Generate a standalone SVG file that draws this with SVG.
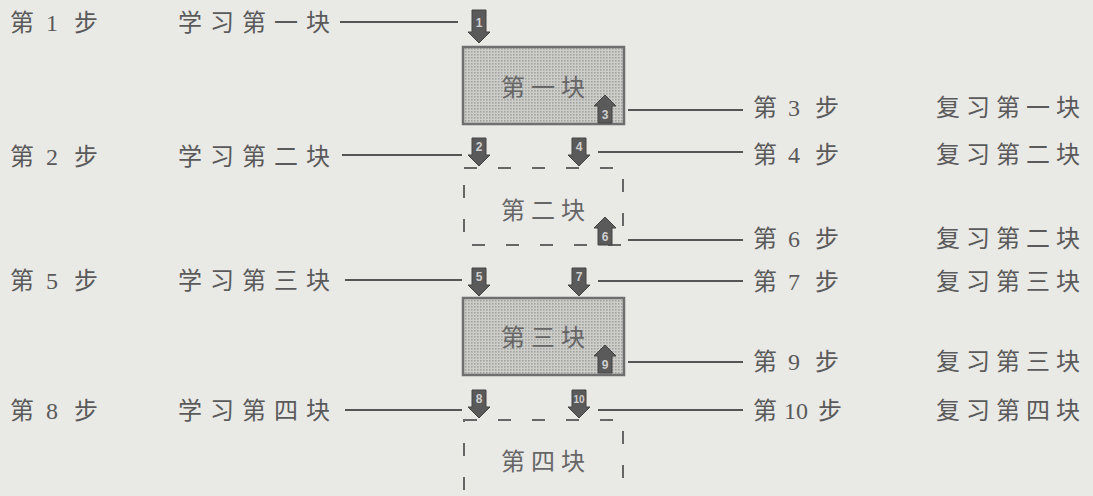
<svg xmlns="http://www.w3.org/2000/svg" width="1093" height="496" viewBox="0 0 1093 496">
<style>
.t{font-family:"Liberation Serif","Noto Sans CJK SC",serif;font-size:24px;fill:#5a5a5a}
.l{letter-spacing:8px}
.r{letter-spacing:6px}
.bt{font-family:"Noto Sans CJK SC",sans-serif;font-size:24px;fill:#666;letter-spacing:6px;text-anchor:middle}
.n{font-family:"Liberation Sans",sans-serif;font-size:12px;font-weight:bold;fill:#cfcfcf;text-anchor:middle}
.ln{stroke:#555;stroke-width:2;fill:none}
.solid{fill:url(#dots);stroke:#6f6f6f;stroke-width:2.5}
.dash{fill:none;stroke:#666;stroke-width:2;stroke-dasharray:13 21}
.ar{fill:#5a5a5a;stroke:#444;stroke-width:1}
</style>
<defs>
<pattern id="dots" width="3" height="3" patternUnits="userSpaceOnUse">
<rect width="3" height="3" fill="#cdcdca"/>
<rect width="1.6" height="1.6" fill="#a2a2a0"/>
</pattern>
<path id="down" d="M-7,0H7V17H11L0,28L-11,17H-7Z"/>
<path id="up" d="M-7,28H7V11H11L0,0L-11,11H-7Z"/>
</defs>
<rect width="1093" height="496" fill="#e9e9e6"/>
<g id="connectors">
<line class="ln" x1="340" y1="22" x2="458" y2="22"/>
<line class="ln" x1="342" y1="155" x2="462" y2="155"/>
<line class="ln" x1="345" y1="280" x2="462" y2="280"/>
<line class="ln" x1="345" y1="410" x2="462" y2="410"/>
<line class="ln" x1="628" y1="110" x2="743" y2="110"/>
<line class="ln" x1="598" y1="152" x2="743" y2="152"/>
<line class="ln" x1="628" y1="240" x2="743" y2="240"/>
<line class="ln" x1="598" y1="281" x2="743" y2="281"/>
<line class="ln" x1="628" y1="362" x2="743" y2="362"/>
<line class="ln" x1="598" y1="410" x2="743" y2="410"/>
</g>
<g id="block1"><rect class="solid" x="463" y="47" width="161" height="77"/><text class="bt" x="546" y="96">第一块</text></g>
<g id="block2"><rect class="dash" x="464" y="168" width="159" height="77"/><text class="bt" x="546" y="219">第二块</text></g>
<g id="block3"><rect class="solid" x="463" y="298" width="161" height="77"/><text class="bt" x="546" y="346">第三块</text></g>
<g id="block4"><rect class="dash" x="464" y="420" width="159" height="80"/><text class="bt" x="546" y="470">第四块</text></g>
<g id="arrows">
<g transform="translate(479,10)"><path class="ar" d="M-7,0H7V22H11L0,33L-11,22H-7Z"/><text class="n" y="17">1</text></g>
<g transform="translate(605,95)"><use href="#up" class="ar"/><text class="n" y="24">3</text></g>
<g transform="translate(479,138)"><use href="#down" class="ar"/><text class="n" y="13">2</text></g>
<g transform="translate(579,138)"><use href="#down" class="ar"/><text class="n" y="13">4</text></g>
<g transform="translate(605,217)"><use href="#up" class="ar"/><text class="n" y="24">6</text></g>
<g transform="translate(479,268)"><use href="#down" class="ar"/><text class="n" y="13">5</text></g>
<g transform="translate(579,268)"><use href="#down" class="ar"/><text class="n" y="13">7</text></g>
<g transform="translate(605,345)"><use href="#up" class="ar"/><text class="n" y="24">9</text></g>
<g transform="translate(479,390)"><use href="#down" class="ar"/><text class="n" y="13">8</text></g>
<g transform="translate(579,390)"><use href="#down" class="ar"/><text class="n" y="13" style="font-size:10px">10</text></g>
</g>
<g id="left-labels">
<text class="t" y="31"><tspan x="10">第</tspan><tspan x="46">1</tspan><tspan x="74">步</tspan></text><text class="t l" x="178" y="31">学习第一块</text>
<text class="t" y="165"><tspan x="10">第</tspan><tspan x="46">2</tspan><tspan x="74">步</tspan></text><text class="t l" x="178" y="165">学习第二块</text>
<text class="t" y="289"><tspan x="10">第</tspan><tspan x="46">5</tspan><tspan x="74">步</tspan></text><text class="t l" x="178" y="289">学习第三块</text>
<text class="t" y="419"><tspan x="10">第</tspan><tspan x="46">8</tspan><tspan x="74">步</tspan></text><text class="t l" x="178" y="419">学习第四块</text>
</g>
<g id="right-labels">
<text class="t" y="116"><tspan x="753">第</tspan><tspan x="788">3</tspan><tspan x="815">步</tspan></text><text class="t r" x="936" y="116">复习第一块</text>
<text class="t" y="163"><tspan x="753">第</tspan><tspan x="788">4</tspan><tspan x="815">步</tspan></text><text class="t r" x="936" y="163">复习第二块</text>
<text class="t" y="247"><tspan x="753">第</tspan><tspan x="788">6</tspan><tspan x="815">步</tspan></text><text class="t r" x="936" y="247">复习第二块</text>
<text class="t" y="290"><tspan x="753">第</tspan><tspan x="788">7</tspan><tspan x="815">步</tspan></text><text class="t r" x="936" y="290">复习第三块</text>
<text class="t" y="370"><tspan x="753">第</tspan><tspan x="788">9</tspan><tspan x="815">步</tspan></text><text class="t r" x="936" y="370">复习第三块</text>
<text class="t" y="419"><tspan x="753">第</tspan><tspan x="784">10</tspan><tspan x="818">步</tspan></text><text class="t r" x="936" y="419">复习第四块</text>
</g>
</svg>
